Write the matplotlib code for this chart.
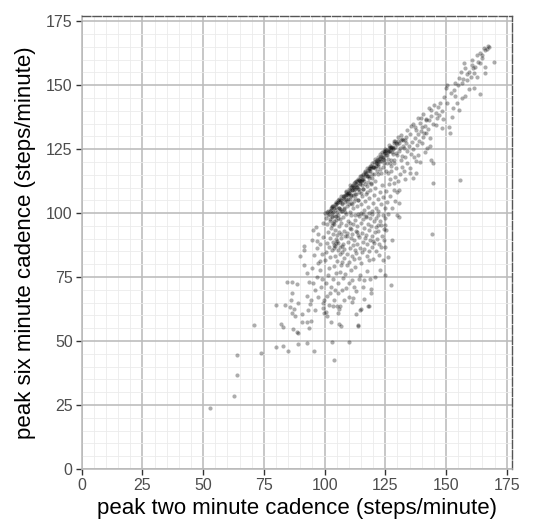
import matplotlib.pyplot as plt
from matplotlib.ticker import MultipleLocator

# ---------------------- Data ----------------------
# peak two minute cadence (x) vs peak six minute cadence (y), steps/minute

# lower-left tail, x < 100
tail_x = [52.9, 62.9, 64.0, 64.0, 74.0, 70.9, 79.8, 82.9, 84.8, 88.9,
          92.7, 95.6, 79.8, 82.0, 82.9, 83.7, 84.7, 86.7, 88.7, 86.7,
          86.0, 85.6, 87.3, 86.7, 88.0, 86.9, 88.7, 89.1, 90.7, 92.7,
          94.4, 93.4, 92.7, 94.4, 94.0, 89.8, 91.7, 91.7, 94.8, 95.4,
          98.0, 98.0, 92.7, 94.7, 96.7, 93.4, 95.2, 96.2, 99.7, 99.2,
          99.5, 99.7, 98.9, 97.5, 96.5, 97.5, 98.2, 98.8, 99.2, 97.0,
          90.9, 89.2, 91.4, 95.8, 96.9, 99.4, 98.6, 97.3, 95.9, 93.0]
tail_y = [23.7, 28.6, 36.7, 44.6, 45.4, 56.2, 47.7, 48.2, 46.1, 48.7,
          49.4, 46.0, 63.9, 56.7, 55.5, 64.1, 73.1, 73.1, 72.3, 68.7,
          66.1, 63.1, 62.7, 60.9, 59.6, 54.6, 53.7, 53.2, 57.4, 57.6,
          57.8, 55.0, 67.7, 66.0, 64.4, 83.1, 87.0, 85.4, 89.6, 93.5,
          81.1, 77.8, 76.5, 78.5, 75.2, 73.1, 72.8, 69.9, 60.9, 62.8,
          64.7, 66.1, 74.4, 80.4, 94.5, 92.0, 88.0, 84.0, 96.0, 86.5,
          60.5, 65.0, 79.8, 83.6, 88.9, 90.6, 71.3, 67.2, 62.0, 62.3]

# x 100-128, six minute cadence under 80
low_x = [102.9, 103.7, 109.9, 106.1, 106.8, 102.8, 100.8, 100.4, 103.4, 105.2,
         106.4, 103.7, 106.1, 105.4, 100.8, 102.1, 105.5, 107.2, 108.8, 111.9,
         113.9, 114.8, 117.9, 113.7, 109.9, 111.2, 114.7, 119.1, 119.1, 112.2,
         114.0, 116.1, 114.7, 120.9, 100.5, 101.3, 102.5, 103.6, 104.8, 102.0,
         104.0, 106.2, 107.5, 108.6, 110.1, 111.3, 110.7, 112.6, 109.2, 105.7,
         101.7, 107.8, 113.0, 115.8, 117.4, 118.6, 104.3, 106.9, 116.3, 112.8,
         127.5, 125.0, 122.9, 118.1]
low_y = [49.7, 42.6, 49.6, 56.7, 56.0, 57.4, 59.8, 61.5, 63.8, 63.7,
         63.7, 66.0, 62.4, 60.8, 67.4, 68.7, 68.7, 69.8, 70.7, 67.0,
         56.3, 62.6, 63.8, 55.8, 67.3, 65.3, 62.0, 68.6, 70.5, 71.2,
         74.4, 73.8, 75.7, 75.1, 72.5, 75.8, 71.3, 74.2, 76.6, 78.4,
         79.2, 77.1, 74.8, 76.3, 72.5, 74.0, 77.8, 78.9, 79.6, 72.6,
         64.2, 66.1, 69.7, 71.2, 77.2, 74.1, 70.0, 79.8, 66.5, 60.5,
         71.7, 75.7, 77.7, 63.6]

# x 100-128, six minute cadence 80-100
mid_x = [100.2, 100.6, 100.9, 101.3, 101.1, 100.4, 101.8, 102.1, 102.4, 102.7,
         102.2, 103.0, 103.3, 103.5, 103.9, 103.2, 104.1, 104.4, 104.6, 104.2,
         104.9, 105.1, 105.4, 105.7, 105.2, 105.9, 105.5, 106.2, 106.4, 106.7,
         106.1, 106.9, 107.3, 107.1, 107.6, 107.9, 107.4, 108.2, 108.5, 108.8,
         108.1, 109.3, 109.6, 109.1, 109.8, 110.2, 110.5, 110.8, 110.3, 110.9,
         111.4, 111.6, 111.2, 111.9, 112.3, 112.6, 112.1, 112.8, 112.4, 113.1,
         113.4, 113.7, 113.2, 113.9, 114.3, 114.6, 114.1, 114.8, 115.2, 115.5,
         115.8, 115.3, 115.9, 116.4, 116.7, 116.2, 116.9, 117.3, 117.6, 117.1,
         117.8, 118.2, 118.5, 118.8, 118.3, 118.9, 119.4, 119.7, 119.2, 120.1,
         120.4, 120.7, 120.2, 121.3, 121.6, 121.1, 121.8, 122.3, 122.6, 122.1,
         122.8, 123.4, 123.7, 123.2, 124.1, 124.6, 124.3, 125.0, 125.3, 125.0,
         126.0, 127.7, 124.8, 123.9, 103.8, 104.7, 104.0, 105.0, 103.4, 102.9,
         106.6, 110.4, 113.5, 114.2, 118.1, 122.0, 107.0, 109.4, 111.0, 119.9]
mid_y = [81.5, 84.9, 88.2, 92.7, 95.6, 97.9, 86.6, 82.7, 90.4, 94.1,
         97.6, 85.4, 88.8, 92.0, 95.9, 99.0, 83.1, 87.2, 89.9, 93.4,
         97.3, 81.4, 85.6, 88.5, 91.3, 94.8, 99.4, 83.9, 86.9, 90.2,
         92.6, 96.3, 81.0, 84.6, 88.0, 93.1, 98.4, 86.1, 90.9, 95.2,
         82.5, 84.0, 88.7, 92.2, 97.0, 80.8, 86.3, 90.1, 94.3, 99.1,
         83.2, 87.6, 91.8, 95.6, 81.9, 85.5, 89.4, 93.0, 97.4, 84.3,
         88.1, 91.5, 94.9, 99.6, 82.6, 86.2, 90.7, 96.3, 80.4, 84.7,
         88.6, 92.4, 97.8, 86.0, 90.2, 94.0, 99.0, 83.3, 87.8, 91.6,
         95.7, 81.8, 85.0, 89.3, 93.3, 98.2, 86.8, 91.0, 95.1, 82.2,
         88.4, 92.5, 97.0, 85.3, 90.0, 94.6, 99.4, 83.7, 88.0, 92.9,
         96.8, 86.6, 91.2, 95.5, 81.5, 89.6, 93.8, 86.8, 93.4, 95.3,
         82.9, 89.4, 97.9, 99.2, 87.6, 88.3, 86.4, 89.0, 96.1, 95.2,
         91.7, 96.3, 92.6, 99.0, 100.0, 95.4, 87.3, 91.0, 93.7, 89.0]

# below the band, six minute cadence 100-112
upper_x = [100.3, 101.0, 101.6, 102.3, 102.8, 103.1, 103.6, 104.2, 104.6, 105.1,
           105.5, 106.0, 106.3, 106.8, 107.2, 107.5, 108.0, 108.4, 108.7, 109.1,
           109.5, 109.9, 110.4, 110.7, 111.0, 111.5, 111.8, 112.2, 112.5, 112.9,
           113.3, 113.6, 114.0, 114.4, 114.8, 115.1, 115.5, 115.9, 116.3, 116.6,
           117.0, 117.4, 117.9, 118.3, 118.7, 119.1, 119.6, 120.0, 120.4, 120.9,
           121.3, 121.8, 122.2, 122.7, 123.1, 123.6, 124.2, 124.8, 125.3, 125.9,
           126.5, 127.1, 127.8, 128.4, 129.0, 129.8, 130.5, 130.5, 130.5, 129.8,
           128.4, 126.2, 104.8, 108.9, 112.7, 116.0, 119.5, 121.0, 117.2, 106.3]
upper_y = [99.9, 100.3, 99.1, 100.8, 101.9, 100.2, 102.6, 101.4, 103.7, 100.6,
           104.2, 102.0, 105.1, 100.9, 103.5, 106.0, 101.7, 104.4, 107.1, 102.9,
           105.6, 108.0, 100.5, 103.9, 106.7, 109.1, 101.8, 104.8, 107.6, 110.3,
           102.6, 105.3, 108.4, 111.2, 100.2, 103.7, 106.5, 109.4, 101.2, 104.6,
           107.3, 110.6, 102.4, 105.8, 108.9, 111.6, 100.7, 104.0, 107.0, 109.9,
           102.0, 105.5, 100.9, 108.1, 103.4, 110.8, 106.3, 101.9, 108.7, 104.3,
           111.4, 106.8, 102.1, 108.9, 104.6, 99.2, 98.6, 103.8, 109.0, 108.4,
           111.6, 99.6, 98.9, 99.7, 99.4, 99.5, 99.7, 98.2, 98.6, 97.5]

# dense band just under the diagonal
band_x = [101.5, 102.0, 102.6, 103.1, 103.5, 104.0, 104.3, 104.9, 105.2, 105.8,
          106.1, 106.5, 106.9, 107.3, 107.6, 108.0, 108.3, 108.7, 109.0, 109.4,
          109.8, 110.1, 110.4, 110.8, 111.1, 111.4, 111.7, 112.0, 112.3, 112.6,
          112.9, 113.2, 113.5, 113.8, 114.1, 114.4, 114.7, 115.0, 115.3, 115.6,
          115.9, 116.2, 116.5, 116.8, 117.1, 117.4, 117.7, 118.0, 118.3, 118.6,
          118.9, 119.2, 119.5, 119.8, 120.1, 120.4, 120.7, 121.0, 121.3, 121.6,
          121.9, 122.2, 122.5, 122.8, 123.1, 123.4, 123.7, 124.0, 124.3, 124.6,
          124.9, 125.2, 125.5, 125.8, 126.1, 126.4, 126.7, 127.0, 127.3, 127.6,
          127.9, 128.2, 128.6, 129.0, 129.4, 129.8, 130.3, 130.8, 131.3, 131.9,
          102.2, 103.0, 103.8, 104.5, 105.6, 106.4, 107.0, 107.9, 108.6, 109.3,
          110.0, 110.6, 111.3, 111.9, 112.4, 113.0, 113.7, 114.3, 114.9, 115.4,
          116.0, 116.7, 117.3, 117.9, 118.5, 119.1, 119.7, 120.3, 120.9, 121.5,
          122.1, 122.7, 123.3, 123.9, 124.5, 125.1, 125.7, 126.3, 126.9, 127.5,
          128.1, 128.7, 129.3, 129.9, 130.5, 131.1, 131.7, 132.3, 132.9, 133.5,
          111.6, 113.9, 116.6, 118.8, 120.9, 122.9, 124.7, 126.6, 128.5, 130.2,
          104.6, 106.7, 108.8, 110.6, 112.8, 114.6, 117.6, 119.6, 121.8, 123.6,
          110.2, 111.0, 112.1, 113.3, 114.0, 115.2, 116.0, 117.2, 118.1, 119.0,
          120.2, 121.1, 122.0, 123.0, 124.1, 125.0, 126.0, 127.1, 128.0, 129.2,
          109.6, 112.7, 115.7, 118.4, 121.4, 124.4, 127.4, 105.4, 107.8, 102.9]
band_y = [100.8, 99.7, 101.2, 102.6, 100.4, 102.1, 103.4, 102.2, 104.0, 101.8,
          105.7, 104.4, 105.3, 103.9, 106.8, 105.5, 107.2, 108.4, 105.4, 107.6,
          106.9, 109.5, 108.9, 106.9, 108.9, 110.5, 110.4, 109.2, 111.8, 109.3,
          111.2, 110.8, 112.7, 109.5, 112.9, 112.4, 111.7, 114.4, 113.4, 113.0,
          114.9, 112.5, 116.1, 114.5, 115.6, 114.5, 117.0, 114.6, 116.5, 117.5,
          116.4, 118.3, 115.4, 118.2, 117.9, 119.9, 117.6, 119.7, 118.6, 120.8,
          118.4, 120.3, 121.3, 120.4, 122.5, 120.4, 122.0, 121.9, 123.4, 120.8,
          123.5, 122.6, 124.8, 122.6, 124.3, 124.1, 125.6, 124.1, 125.8, 124.0,
          125.9, 125.6, 127.3, 125.7, 127.5, 127.0, 128.1, 127.3, 128.7, 128.8,
          97.1, 98.4, 97.0, 99.0, 98.2, 101.5, 100.9, 102.1, 100.4, 104.6,
          103.5, 105.4, 103.4, 107.1, 106.1, 107.4, 105.1, 109.3, 107.8, 110.9,
          109.3, 111.4, 108.3, 112.0, 113.9, 111.5, 113.7, 115.2, 112.6, 116.6,
          115.2, 117.3, 115.6, 118.2, 119.7, 116.3, 119.5, 121.0, 119.7, 120.9,
          123.1, 120.7, 123.5, 122.9, 124.1, 125.6, 122.4, 126.2, 125.4, 127.6,
          111.0, 113.5, 116.3, 118.6, 121.0, 123.1, 125.0, 126.7, 128.2, 129.6,
          104.5, 106.5, 108.7, 110.8, 112.6, 114.7, 117.6, 119.7, 121.9, 123.8,
          107.9, 110.2, 110.2, 110.2, 113.0, 112.6, 115.4, 115.4, 114.7, 117.8,
          118.2, 120.2, 119.3, 121.5, 121.1, 124.3, 123.8, 125.7, 125.1, 128.1,
          108.0, 112.3, 113.2, 117.5, 119.6, 124.1, 125.3, 105.1, 106.6, 102.5]

# x 125-145, right of the band
right_x = [136.3, 135.0, 137.7, 135.3, 131.9, 134.0, 133.2, 136.7, 141.4, 142.1,
           140.1, 143.5, 140.8, 140.1, 142.9, 144.5, 144.5, 143.8, 144.2, 155.9,
           126.8, 127.5, 128.9, 129.6, 130.2, 130.9, 131.5, 132.6, 133.1, 133.8,
           134.6, 135.4, 135.9, 136.5, 137.2, 137.9, 138.4, 139.0, 139.6, 140.5,
           141.2, 141.9, 142.6, 143.3, 144.0, 144.8, 138.6, 139.2, 137.5, 132.2,
           133.0, 134.1, 135.2, 136.3, 137.3, 138.4, 139.5, 140.6, 141.7, 142.8,
           131.5, 133.6, 135.7, 137.8, 139.8, 141.8, 143.9, 128.6, 127.3, 126.1]
right_y = [113.6, 115.6, 115.6, 117.5, 118.1, 119.4, 122.0, 122.0, 124.0, 125.3,
           127.3, 126.2, 131.2, 133.8, 136.4, 111.9, 119.7, 120.7, 92.0, 112.9,
           113.2, 116.4, 114.0, 117.8, 112.5, 115.2, 120.9, 116.3, 113.4, 124.4,
           126.2, 123.1, 127.9, 125.0, 129.4, 126.6, 130.8, 128.1, 132.2, 129.6,
           134.0, 131.5, 133.0, 129.2, 138.1, 135.0, 122.9, 119.8, 120.4, 128.4,
           128.7, 132.3, 131.1, 134.8, 133.6, 137.2, 135.4, 138.9, 136.6, 141.0,
           130.4, 129.8, 133.9, 132.5, 137.0, 136.3, 140.2, 119.6, 118.3, 115.7]

# upper right, x over 145
top_x = [146.4, 145.7, 148.4, 151.1, 151.8, 152.5, 155.3, 154.6, 150.5, 149.1,
         149.8, 150.5, 153.2, 153.9, 156.6, 158.0, 164.2, 159.3, 161.4, 156.6,
         155.3, 158.7, 160.1, 161.4, 162.8, 166.2, 159.3, 158.0, 156.0, 157.4,
         160.8, 162.1, 164.2, 164.8, 164.2, 166.2, 167.6, 165.6, 169.6, 166.2,
         162.8, 160.8, 146.9, 147.6, 148.2, 145.2, 147.0, 152.0, 153.6, 155.0,
         157.2, 158.6, 161.0, 163.0, 165.0, 166.8, 167.2, 146.0, 148.9, 152.9]
top_y = [137.0, 139.0, 133.1, 133.5, 131.2, 137.7, 140.3, 142.9, 142.9, 145.5,
         148.8, 150.1, 148.2, 145.6, 145.0, 145.6, 146.4, 148.6, 149.0, 150.8,
         152.8, 152.2, 153.4, 154.7, 153.4, 154.7, 155.3, 156.6, 155.3, 158.6,
         159.9, 157.3, 158.6, 160.6, 162.6, 163.9, 164.9, 164.5, 158.9, 157.3,
         161.9, 158.0, 141.6, 143.0, 140.1, 142.4, 138.5, 147.1, 151.0, 150.2,
         152.6, 154.3, 156.6, 159.0, 162.0, 164.3, 165.3, 134.4, 136.8, 141.0]

two_min = tail_x + low_x + mid_x + upper_x + band_x + right_x + top_x
six_min = tail_y + low_y + mid_y + upper_y + band_y + right_y + top_y

ticks = [0, 25, 50, 75, 100, 125, 150, 175]

# ---------------------- Plotting ----------------------
plt.rcParams['font.family'] = ['Liberation Sans', 'DejaVu Sans']

fig = plt.figure(figsize=(5.34, 5.21), dpi=100)
ax = fig.add_axes([0.153, 0.100, 0.805, 0.870])

ax.scatter(two_min, six_min, s=9, color='black', alpha=0.32, linewidths=0, zorder=3)

# limits and grid (major every 25, minor every 5)
ax.set_xlim(0, 177)
ax.set_ylim(0, 177.2)
ax.set_xticks(ticks)
ax.set_yticks(ticks)
ax.xaxis.set_minor_locator(MultipleLocator(5))
ax.yaxis.set_minor_locator(MultipleLocator(5))
ax.grid(which='major', color='#bdbdbd', linewidth=1.2, zorder=0)
ax.grid(which='minor', color='#ebebeb', linewidth=0.6, zorder=0)
ax.set_axisbelow(True)

ax.tick_params(which='major', length=4, width=1, color='#333333',
               labelsize=11.5, labelcolor='#4d4d4d', pad=2.5)
ax.tick_params(which='minor', length=0)

# dashed panel border on top/right, plain axis lines on left/bottom
for side in ['top', 'right']:
    ax.spines[side].set_linestyle((0, (6, 1.5)))
    ax.spines[side].set_color('#555555')
    ax.spines[side].set_linewidth(1.0)
for side in ['left', 'bottom']:
    ax.spines[side].set_color('#b8b8b8')
    ax.spines[side].set_linewidth(1.1)

ax.set_xlabel('peak two minute cadence (steps/minute)', fontsize=16, labelpad=4)
ax.set_ylabel('peak six minute cadence (steps/minute)', fontsize=16, labelpad=7)

fig.savefig('out.png', dpi=100)
